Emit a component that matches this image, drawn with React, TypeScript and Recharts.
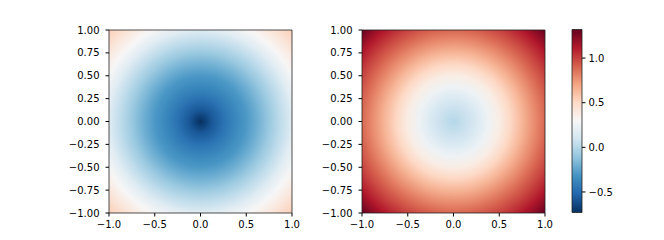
import { ScatterChart, Scatter, XAxis, YAxis, ReferenceArea } from 'recharts';

// radial profile (value at distance r from the centre)
const radius = [0, 0.125, 0.25, 0.375, 0.5, 0.625, 0.75, 0.875, 1.0, 1.125, 1.25, 1.414];
const leftValues = [-0.73, -0.58, -0.47, -0.38, -0.3, -0.2, -0.09, 0.03, 0.17, 0.3, 0.41, 0.54];
const rightValues = [0.0, 0.06, 0.14, 0.24, 0.37, 0.51, 0.64, 0.77, 0.89, 1.0, 1.12, 1.32];

const xTicks = [-1, -0.5, 0, 0.5, 1];
const yTicks = [-1, -0.75, -0.5, -0.25, 0, 0.25, 0.5, 0.75, 1];
const cbarTicks = [-0.5, 0, 0.5, 1];
const vmin = -0.73;
const vmax = 1.32;

// RdBu_r anchors
const RDBU_R = ['#053061', '#2166ac', '#4393c3', '#92c5de', '#d1e5f0', '#f7f7f7', '#fddbc7', '#f4a582', '#d6604d', '#b2182b', '#67001f'];

const FONT = '"DejaVu Sans", sans-serif';
const tickStyle = { fontSize: 10, fill: '#000', fontFamily: FONT };

function hexToRgb(h: string) {
  return [1, 3, 5].map((i) => parseInt(h.slice(i, i + 2), 16));
}

function cmap(v: number) {
  const t = Math.max(0, Math.min(1, (v - vmin) / (vmax - vmin))) * (RDBU_R.length - 1);
  const i = Math.min(Math.floor(t), RDBU_R.length - 2);
  const f = t - i;
  const a = hexToRgb(RDBU_R[i]);
  const b = hexToRgb(RDBU_R[i + 1]);
  const c = a.map((x, k) => Math.round(x + (b[k] - x) * f));
  return `rgb(${c[0]},${c[1]},${c[2]})`;
}

const fmt = (d: number) => (v: number) => v.toFixed(d).replace('-', '\u2212');

function Heatmap({ id, yWidth, width, marginRight }: { id: string; yWidth: number; width: number; marginRight: number }) {
  return (
    <ScatterChart width={width} height={240} margin={{ top: 30, right: marginRight, bottom: 0, left: 0 }}>
      <XAxis
        type="number"
        dataKey="x"
        domain={[-1, 1]}
        ticks={xTicks}
        tickFormatter={fmt(1)}
        axisLine={false}
        tickSize={3.5}
        tickMargin={4}
        height={27}
        tick={tickStyle}
        tickLine={{ stroke: '#000' }}
        allowDataOverflow
      />
      <YAxis
        type="number"
        dataKey="y"
        domain={[-1, 1]}
        ticks={yTicks}
        tickFormatter={fmt(2)}
        axisLine={false}
        tickSize={3.5}
        tickMargin={6}
        width={yWidth}
        tick={tickStyle}
        tickLine={{ stroke: '#000' }}
        allowDataOverflow
      />
      <Scatter data={[{ x: 0, y: 0 }]} fill="none" isAnimationActive={false} shape={() => <g />} />
      <ReferenceArea x1={-1} x2={1} y1={-1} y2={1} fill={`url(#${id})`} fillOpacity={1} stroke="#222" strokeWidth={0.8} />
    </ScatterChart>
  );
}

export default function App() {
  const rMax = radius[radius.length - 1];
  return (
    <div style={{ position: 'absolute', left: 0, top: 0, width: 664, height: 240, background: '#fff' }}>
      <svg width={0} height={0} style={{ position: 'absolute' }}>
        <defs>
          <radialGradient id="gLeft" cx="0.5" cy="0.5" r={rMax / 2}>
            {radius.map((r, i) => (
              <stop key={i} offset={r / rMax} stopColor={cmap(leftValues[i])} />
            ))}
          </radialGradient>
          <radialGradient id="gRight" cx="0.5" cy="0.5" r={rMax / 2}>
            {radius.map((r, i) => (
              <stop key={i} offset={r / rMax} stopColor={cmap(rightValues[i])} />
            ))}
          </radialGradient>
          <linearGradient id="gBar" x1="0" y1="1" x2="0" y2="0">
            {RDBU_R.map((c, i) => (
              <stop key={i} offset={i / (RDBU_R.length - 1)} stopColor={c} />
            ))}
          </linearGradient>
        </defs>
      </svg>
      <div style={{ position: 'absolute', left: 0, top: 0 }}>
        <Heatmap id="gLeft" yWidth={109} width={300} marginRight={8} />
      </div>
      <div style={{ position: 'absolute', left: 300, top: 0 }}>
        <Heatmap id="gRight" yWidth={62} width={260} marginRight={15} />
      </div>
      <div style={{ position: 'absolute', left: 560, top: 0 }}>
        <ScatterChart width={104} height={240} margin={{ top: 29.5, right: 0, bottom: 27.5, left: 12 }}>
          <XAxis type="number" dataKey="x" domain={[0, 1]} hide />
          <YAxis
            type="number"
            dataKey="y"
            orientation="right"
            domain={[vmin, vmax]}
            ticks={cbarTicks}
            tickFormatter={fmt(1)}
            axisLine={false}
            tickSize={3.5}
            tickMargin={3}
            width={82}
            tick={{ ...tickStyle, textAnchor: 'start' }}
            tickLine={{ stroke: '#000' }}
            allowDataOverflow
          />
          <Scatter data={[{ x: 0, y: 0 }]} fill="none" isAnimationActive={false} shape={() => <g />} />
          <ReferenceArea x1={0} x2={1} y1={vmin} y2={vmax} fill="url(#gBar)" fillOpacity={1} stroke="#222" strokeWidth={0.8} />
        </ScatterChart>
      </div>
    </div>
  );
}
